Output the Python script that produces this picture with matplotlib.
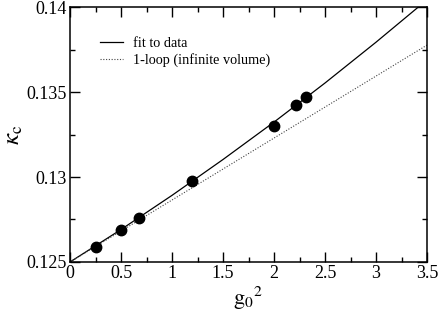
import matplotlib
matplotlib.use("Agg")
import matplotlib.pyplot as plt
from matplotlib.ticker import MultipleLocator, FormatStrFormatter

# dados
g2_dados = [0.25, 0.50, 0.68, 1.20, 2.00, 2.22, 2.31]
kappa_dados = [0.12590, 0.12688, 0.12759, 0.12975, 0.13302, 0.13424, 0.13469]

# curva do ajuste (lida ponto a ponto)
g2_ajuste = [0.0, 0.5, 1.0, 1.5, 2.0, 2.5, 3.0, 3.415]
kappa_ajuste = [0.12500, 0.12691, 0.12892, 0.13103, 0.13323, 0.13553, 0.13793, 0.14000]

# 1-loop (reta)
g2_1loop = [0.0, 3.5]
kappa_1loop = [0.12500, 0.13776]

plt.rcParams["font.family"] = ["Liberation Serif", "DejaVu Serif"]
plt.rcParams["mathtext.fontset"] = "stix"

fig = plt.figure(figsize=(4.39, 3.19), dpi=100)
ax = fig.add_axes([0.1595, 0.1787, 0.8132, 0.7993])

ax.plot(g2_ajuste, kappa_ajuste, color="black", lw=0.9, label="fit to data")
ax.plot(g2_1loop, kappa_1loop, color="#444444", lw=0.8, linestyle=(0, (1, 1.5)),
        label="1-loop (infinite volume)")
ax.plot(g2_dados, kappa_dados, "o", color="black", markersize=7.5, zorder=5)

ax.set_xlim(0, 3.5)
ax.set_ylim(0.125, 0.14)
ax.xaxis.set_major_locator(MultipleLocator(0.5))
ax.xaxis.set_minor_locator(MultipleLocator(0.25))
ax.yaxis.set_major_locator(MultipleLocator(0.005))
ax.yaxis.set_minor_locator(MultipleLocator(0.0025))
ax.xaxis.set_major_formatter(FormatStrFormatter("%g"))
ax.yaxis.set_major_formatter(FormatStrFormatter("%g"))
ax.tick_params(which="both", direction="in", top=True, right=True, width=1.0,
               labelsize=13, pad=2)
ax.tick_params(which="major", length=7)
ax.tick_params(which="minor", length=3.5)
for s in ax.spines.values():
    s.set_linewidth(1.1)

ax.set_xlabel(r"$\mathrm{g}_{0}{}^{2}$", fontsize=16, labelpad=2)
ax.set_ylabel(r"$\kappa_{\mathrm{c}}$", fontsize=18, labelpad=1)

ax.legend(loc="upper left", bbox_to_anchor=(0.065, 0.91), frameon=False,
          fontsize=10.3, handlelength=1.6, handletextpad=0.7, labelspacing=0.2,
          borderpad=0)

fig.savefig("out.png", dpi=100)
